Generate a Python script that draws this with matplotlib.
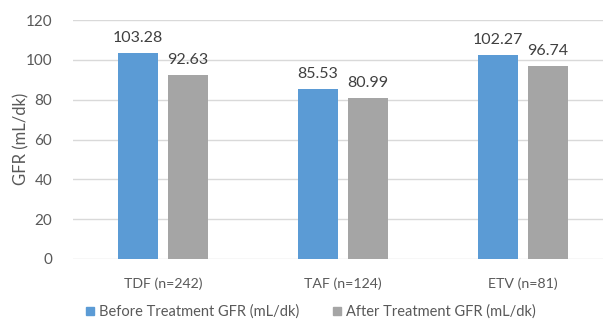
import matplotlib
matplotlib.use("Agg")
import matplotlib.pyplot as plt
import numpy as np
from matplotlib.patches import Patch

categories = ["TDF (n=242)", "TAF (n=124)", "ETV (n=81)"]
before = [103.28, 85.53, 102.27]
after = [92.63, 80.99, 96.74]
series_names = ["Before Treatment GFR (mL/dk)", "After Treatment GFR (mL/dk)"]
yticks = [0, 20, 40, 60, 80, 100, 120]

blue = "#5B9BD5"
gray = "#A5A5A5"
txt = "#595959"
plt.rcParams['font.family'] = ['Lato', 'DejaVu Sans']

W, H = 604, 323
fig = plt.figure(figsize=(W/100, H/100), dpi=100)
left, right, top, bottom = 73, 603, 20, 259
ax = fig.add_axes([left/W, 1-bottom/H, (right-left)/W, (bottom-top)/H])

x = np.arange(len(categories))
bw = 40/180
off = 25/180
b1 = ax.bar(x-off, before, bw, color=blue, zorder=3)
b2 = ax.bar(x+off, after, bw, color=gray, zorder=3)
for bars, vals in ((b1, before), (b2, after)):
    for r, v in zip(bars, vals):
        ax.text(r.get_x()+r.get_width()/2, v+4, f"{v:.2f}", ha='center', va='bottom',
                fontsize=11.5, color="#404040")

ax.set_xlim(-0.5, 2.5-10/180)
ax.set_ylim(0, 120)
ax.set_yticks(yticks)
ax.set_xticks(x)
ax.set_xticklabels(categories)
ax.yaxis.grid(True, color="#D9D9D9", linewidth=1, zorder=0)
for s in ax.spines.values():
    s.set_visible(False)
ax.tick_params(axis='both', length=0, colors=txt)
ax.tick_params(axis='y', pad=15, labelsize=11)
ax.tick_params(axis='x', pad=13, labelsize=10.2)
fig.text(21/W, 1-139/H, "GFR (mL/dk)", rotation=90, ha='center', va='center',
         color=txt, fontsize=12)

handles = [Patch(color=blue), Patch(color=gray)]
fig.legend(handles, series_names, loc='center', bbox_to_anchor=(311/W, 1-312/H), ncol=2,
           frameon=False, fontsize=10.5, labelcolor=txt, handlelength=0.55, handleheight=0.55,
           handletextpad=0.34, columnspacing=2.3)

fig.savefig("out.png", dpi=100)
